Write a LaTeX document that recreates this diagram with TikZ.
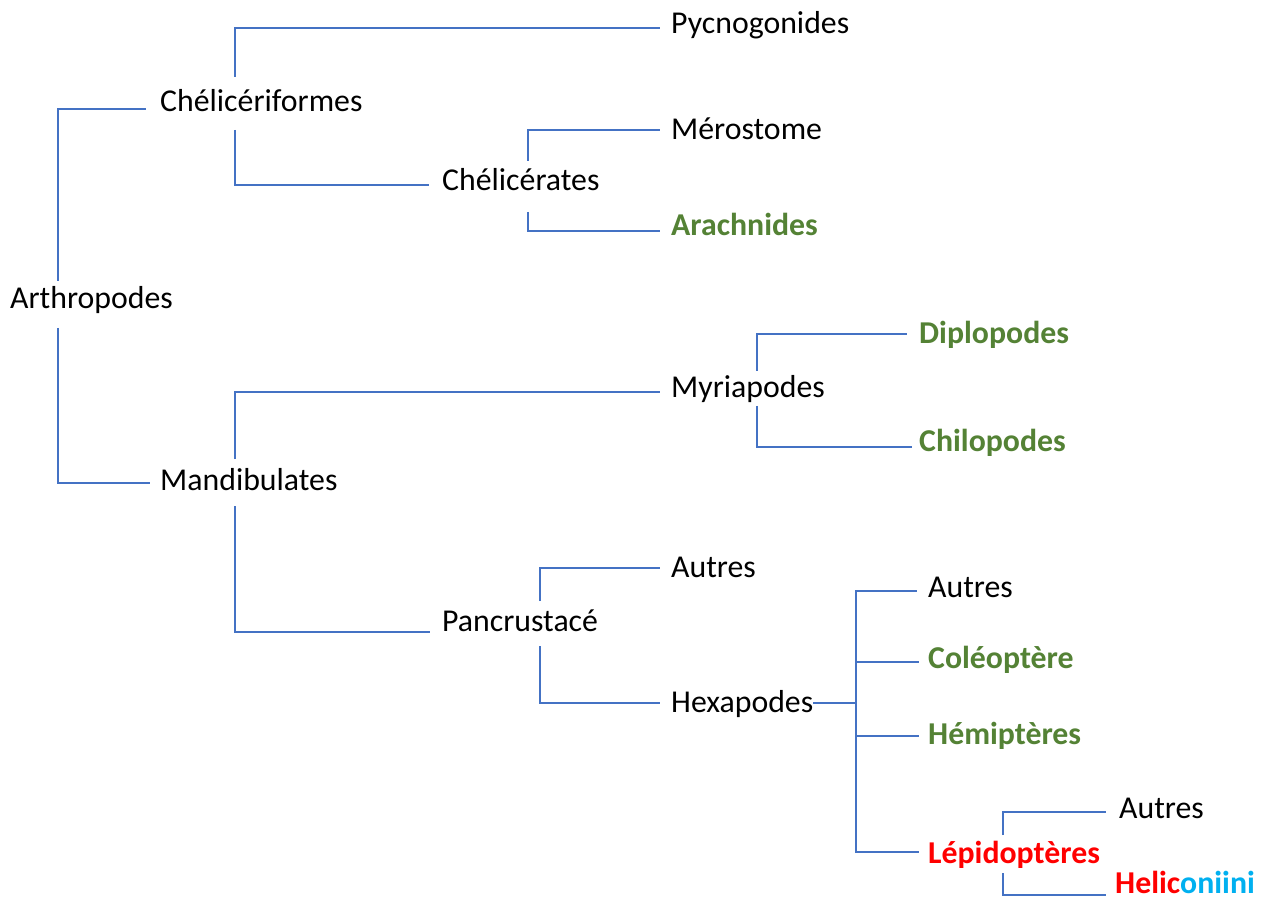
\documentclass[tikz,border=0pt]{standalone}
\usepackage{fontspec}
\setmainfont{Carlito}
\definecolor{linkblue}{HTML}{4472C4}
\definecolor{taxgreen}{HTML}{548235}
\definecolor{taxred}{HTML}{FF0000}
\definecolor{taxcyan}{HTML}{00B0F0}
\tikzset{
  taxon/.style={anchor=base west, inner sep=0pt, font=\fontsize{31.8}{38}\selectfont, text=black},
  good/.style={taxon, font=\fontsize{31.8}{38}\selectfont\bfseries, text=taxgreen},
  focus/.style={taxon, font=\fontsize{31.8}{38}\selectfont\bfseries, text=taxred},
  link/.style={draw=linkblue, line width=1.1pt}
}
\begin{document}
\begin{tikzpicture}[x=1pt,y=-1pt]
\useasboundingbox[fill=white] (0,0) rectangle (1262,901);
% nodes
\node[taxon] (art) at (10,309) {Arthropodes};
\node[taxon] (chf) at (160,112) {Chélicériformes};
\node[taxon] (man) at (160,490) {Mandibulates};
\node[taxon] (pyc) at (671,34) {Pycnogonides};
\node[taxon] (che) at (442,191) {Chélicérates};
\node[taxon] (mer) at (671,140) {Mérostome};
\node[good]  (ara) at (671,236) {Arachnides};
\node[taxon] (myr) at (671,398) {Myriapodes};
\node[good]  (dip) at (919,344) {Diplopodes};
\node[good]  (chi) at (919,452) {Chilopodes};
\node[taxon] (pan) at (442,631) {Pancrustacé};
\node[taxon] (au1) at (671,577) {Autres};
\node[taxon] (hex) at (671,712) {Hexapodes};
\node[taxon] (au2) at (928,597) {Autres};
\node[good]  (col) at (928,668) {Coléoptère};
\node[good]  (hem) at (928,744) {Hémiptères};
\node[focus] (lep) at (928,863) {Lépidoptères};
\node[taxon] (au3) at (1119,818) {Autres};
\node[focus] (hel) at (1115,893) {Helic{\color{taxcyan}oniini}};
\coordinate (hj) at (856,703);
% connectors
\draw[link] ([shift={(48pt,28pt)}]art.base west) |- ([shift={(-14pt,3pt)}]chf.base west);
\draw[link] ([shift={(48pt,-19pt)}]art.base west) |- ([shift={(-10pt,7pt)}]man.base west);
\draw[link] ([shift={(75pt,35pt)}]chf.base west) |- ([shift={(-11pt,6pt)}]pyc.base west);
\draw[link] ([shift={(75pt,-18pt)}]chf.base west) |- ([shift={(-13pt,6pt)}]che.base west);
\draw[link] ([shift={(86pt,30pt)}]che.base west) |- ([shift={(-11pt,10pt)}]mer.base west);
\draw[link] ([shift={(86pt,-21pt)}]che.base west) |- ([shift={(-11pt,5pt)}]ara.base west);
\draw[link] ([shift={(75pt,31pt)}]man.base west) |- ([shift={(-11pt,6pt)}]myr.base west);
\draw[link] ([shift={(75pt,-16pt)}]man.base west) |- ([shift={(-12pt,-1pt)}]pan.base west);
\draw[link] ([shift={(86pt,27pt)}]myr.base west) |- ([shift={(-12pt,10pt)}]dip.base west);
\draw[link] ([shift={(86pt,-8pt)}]myr.base west) |- ([shift={(-7pt,5pt)}]chi.base west);
\draw[link] ([shift={(98pt,30pt)}]pan.base west) |- ([shift={(-11pt,9pt)}]au1.base west);
\draw[link] ([shift={(98pt,-15pt)}]pan.base west) |- ([shift={(-11pt,9pt)}]hex.base west);
\draw[link] ([yshift=9pt]hex.base east) -- (hj);
\draw[link] (hj) |- ([shift={(-11pt,6pt)}]au2.base west);
\draw[link] (hj) |- ([shift={(-9pt,6pt)}]col.base west);
\draw[link] (hj) |- ([shift={(-9pt,8pt)}]hem.base west);
\draw[link] (hj) |- ([shift={(-9pt,11pt)}]lep.base west);
\draw[link] ([shift={(75pt,28pt)}]lep.base west) |- ([shift={(-13pt,6pt)}]au3.base west);
\draw[link] ([shift={(75pt,-10pt)}]lep.base west) |- ([shift={(-9pt,-2pt)}]hel.base west);
\end{tikzpicture}
\end{document}
